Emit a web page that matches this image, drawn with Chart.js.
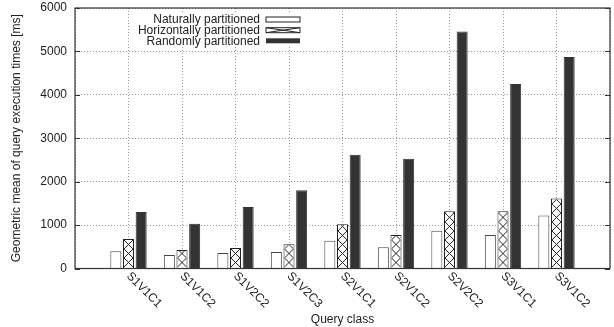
<!DOCTYPE html>
<html>
<head>
<meta charset="utf-8">
<script src="https://cdn.jsdelivr.net/npm/chart.js@4.4.0/dist/chart.umd.min.js"></script>
<style>
  html, body { margin: 0; padding: 0; background: #fff; }
  #wrap { width: 614px; height: 327px; }
</style>
</head>
<body>
<div id="wrap"><canvas id="chart" width="614" height="327"></canvas></div>
<script>
// values (ms)
const categories = ['S1V1C1', 'S1V1C2', 'S1V2C2', 'S1V2C3', 'S2V1C1', 'S2V1C2', 'S2V2C2', 'S3V1C1', 'S3V1C2'];
const naturally = [400, 310, 355, 380, 640, 490, 870, 770, 1220];
const horizontally = [680, 425, 470, 560, 1020, 770, 1320, 1320, 1610];
const randomly = [1300, 1030, 1415, 1805, 2620, 2530, 5460, 4250, 4870];
const seriesNames = ['Naturally partitioned', 'Horizontally partitioned', 'Randomly partitioned'];
const yTicks = [0, 1000, 2000, 3000, 4000, 5000, 6000];

const FONT = '"Liberation Sans", Arial, Helvetica, sans-serif';
const INK = '#222';
const DARK = '#333';

// one empty slot at each end so the groups sit a full step from the frame
const labels = ['', ...categories, ''];
const pad = arr => [null, ...arr, null];

function hatchRect(ctx, x, y, w, h, cell) {
  ctx.save();
  ctx.beginPath();
  ctx.rect(x, y, w, h);
  ctx.clip();
  ctx.beginPath();
  for (let yy = y + h; yy > y - cell; yy -= cell) {
    ctx.moveTo(x, yy); ctx.lineTo(x + w, yy - cell);
    ctx.moveTo(x + w, yy); ctx.lineTo(x, yy - cell);
  }
  ctx.strokeStyle = INK;
  ctx.lineWidth = 1;
  ctx.stroke();
  ctx.restore();
}

const gnuplotLook = {
  id: 'gnuplotLook',
  afterDatasetsDraw(chart) {
    const ctx = chart.ctx;
    // crosshatch on the horizontally partitioned bars
    chart.getDatasetMeta(1).data.forEach(el => {
      const p = el.getProps(['x', 'y', 'base', 'width'], true);
      if (p.y == null || isNaN(p.y)) return;
      const left = p.x - p.width / 2 + 1, top = p.y + 1;
      const w = p.width - 2, h = p.base - p.y - 2;
      if (h > 0) hatchRect(ctx, left, top, w, h, w);
    });
    // frame with inward ticks on left and right
    const a = chart.chartArea;
    const yScale = chart.scales.y;
    ctx.save();
    ctx.strokeStyle = DARK;
    ctx.lineWidth = 1.2;
    ctx.strokeRect(a.left, a.top, a.right - a.left, a.bottom - a.top);
    ctx.beginPath();
    yTicks.forEach(v => {
      const py = Math.round(yScale.getPixelForValue(v)) + 0.5;
      ctx.moveTo(a.left, py); ctx.lineTo(a.left + 5, py);
      ctx.moveTo(a.right, py); ctx.lineTo(a.right - 5, py);
    });
    ctx.lineWidth = 1;
    ctx.stroke();
    ctx.restore();
  },
  afterDraw(chart) {
    const ctx = chart.ctx;
    const xScale = chart.scales.x;
    ctx.save();
    ctx.font = '12px ' + FONT;
    ctx.fillStyle = INK;
    // rotated category labels, reading down to the right
    categories.forEach((c, i) => {
      const px = xScale.getPixelForValue(i + 1);
      ctx.save();
      ctx.translate(px + 4, 270);
      ctx.rotate(Math.PI / 4);
      ctx.textAlign = 'left';
      ctx.textBaseline = 'top';
      ctx.fillText(c, 0, 0);
      ctx.restore();
    });
    // opaque key in the top left of the plot
    ctx.fillStyle = '#fff';
    ctx.fillRect(130, 12, 175, 35);
    const rows = [19.5, 30.2, 40.8];
    ctx.textAlign = 'right';
    ctx.textBaseline = 'middle';
    seriesNames.forEach((name, i) => {
      const cy = rows[i];
      ctx.fillStyle = INK;
      ctx.fillText(name, 260, cy + 0.5);
      const bx = 266, bw = 34, bh = 5, by = cy - bh / 2;
      if (i === 2) {
        ctx.fillStyle = DARK;
        ctx.fillRect(bx, by, bw, bh);
      } else {
        ctx.fillStyle = '#fff';
        ctx.fillRect(bx, by, bw, bh);
        if (i === 1) hatchRect(ctx, bx, by, bw, bh, bh);
        ctx.strokeStyle = INK;
        ctx.lineWidth = 1;
        ctx.strokeRect(bx, by, bw, bh);
      }
    });
    ctx.restore();
  }
};

new Chart(document.getElementById('chart'), {
  type: 'bar',
  data: {
    labels: labels,
    datasets: [
      { label: seriesNames[0], data: pad(naturally), backgroundColor: '#fff', borderColor: '#444', borderWidth: 1 },
      { label: seriesNames[1], data: pad(horizontally), backgroundColor: '#fff', borderColor: INK, borderWidth: 1 },
      { label: seriesNames[2], data: pad(randomly), backgroundColor: DARK, borderColor: DARK, borderWidth: 1 }
    ]
  },
  options: {
    responsive: false,
    animation: false,
    layout: { padding: { left: 0, right: 4, top: 8, bottom: 0 } },
    datasets: { bar: { categoryPercentage: 0.71, barPercentage: 0.87 } },
    plugins: { legend: { display: false }, tooltip: { enabled: false } },
    scales: {
      x: {
        type: 'category',
        offset: false,
        grid: { offset: false, color: '#999', drawTicks: false },
        border: { display: false, dash: [1, 2] },
        ticks: { display: false },
        title: { display: true, text: 'Query class', color: INK, font: { family: FONT, size: 12 }, padding: { top: 0, bottom: 0 } },
        afterFit: s => { s.height = 58.5; s.paddingLeft = 0; s.paddingRight = 0; }
      },
      y: {
        min: 0,
        max: 6000,
        afterBuildTicks: s => { s.ticks = yTicks.map(v => ({ value: v })); },
        grid: { color: '#999', drawTicks: false },
        border: { display: false, dash: [1, 2] },
        ticks: { padding: 8, color: INK, font: { family: FONT, size: 12 }, callback: v => String(v) },
        title: { display: true, text: 'Geometric mean of query execution times [ms]', color: INK, font: { family: FONT, size: 12 }, padding: { top: 9, bottom: 0 } },
        afterFit: s => { s.width = 75; s.paddingTop = 0; s.paddingBottom = 0; }
      }
    }
  },
  plugins: [gnuplotLook]
});
</script>
</body>
</html>
